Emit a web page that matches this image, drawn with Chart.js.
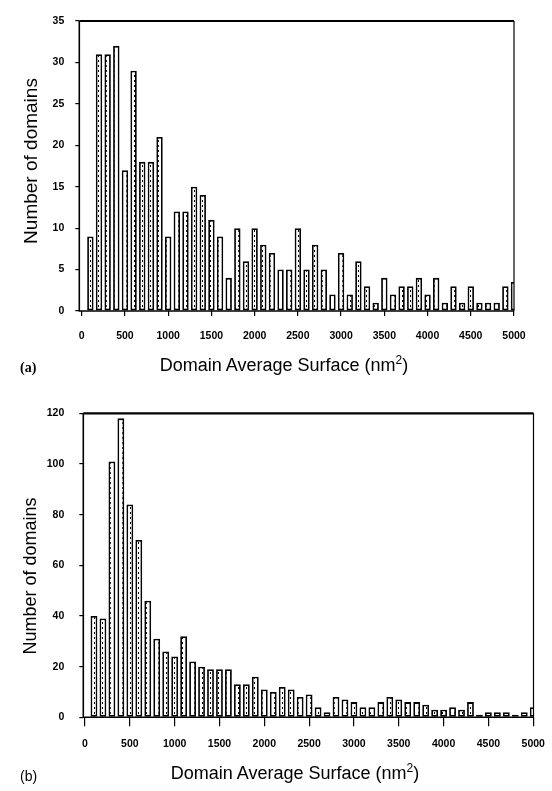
<!DOCTYPE html>
<html>
<head>
<meta charset="utf-8">
<script src="https://cdn.jsdelivr.net/npm/chart.js@4.4.0/dist/chart.umd.min.js"></script>
<style>
  body { margin: 0; background: #fff; width: 552px; height: 791px; position: relative; overflow: hidden;
         font-family: "Liberation Sans", Arial, sans-serif; color: #000; }
  .box { position: absolute; left: 0; width: 552px; }
  #boxA { top: 0; height: 390px; }
  #boxB { top: 392px; height: 399px; }
  .xtitle { position: absolute; font-size: 18px; white-space: nowrap; transform: translate(-50%, -50%); }
  .xtitle sup { font-size: 12px; line-height: 0; }
  .ytitle { position: absolute; white-space: nowrap; transform: translate(-50%, -50%) rotate(-90deg); }
  .panel { position: absolute; font-size: 14px; transform: translateY(-50%); }
  #labA { font-family: "Liberation Serif", serif; font-weight: bold; }
</style>
</head>
<body>
<div class="box" id="boxA"><canvas id="chartA"></canvas></div>
<div class="box" id="boxB"><canvas id="chartB"></canvas></div>
<div class="ytitle" style="left:31px; top:161px; font-size:19px;">Number of domains</div>
<div class="panel" id="labA" style="left:20px; top:368px;">(a)</div>
<div class="xtitle" style="left:284px; top:365px;">Domain Average Surface (nm<sup>2</sup>)</div>
<div class="ytitle" style="left:30px; top:576px; font-size:18px;">Number of domains</div>
<div class="panel" id="labB" style="left:20px; top:776px;">(b)</div>
<div class="xtitle" style="left:295px; top:773px;">Domain Average Surface (nm<sup>2</sup>)</div>
<script>
// bin centres (nm^2), shared by both histograms
const binCenters = [100, 200, 300, 400, 500, 600, 700, 800, 900, 1000,
                    1100, 1200, 1300, 1400, 1500, 1600, 1700, 1800, 1900, 2000,
                    2100, 2200, 2300, 2400, 2500, 2600, 2700, 2800, 2900, 3000,
                    3100, 3200, 3300, 3400, 3500, 3600, 3700, 3800, 3900, 4000,
                    4100, 4200, 4300, 4400, 4500, 4600, 4700, 4800, 4900, 5000];

// (a) number of domains
const countsA = [9, 31, 31, 32, 17, 29, 18, 18, 21, 9,
                 12, 12, 15, 14, 11, 9, 4, 10, 6, 10,
                 8, 7, 5, 5, 10, 5, 8, 5, 2, 7,
                 2, 6, 3, 1, 4, 2, 3, 3, 4, 2,
                 4, 1, 3, 1, 3, 1, 1, 1, 3, 3.5];

// (b) number of domains
const countsB = [40, 39, 101, 118, 84, 70, 46, 31, 26, 24,
                 32, 22, 20, 19, 19, 19, 13, 13, 16, 11,
                 10, 12, 11, 8, 9, 4, 2, 8, 7, 6,
                 4, 4, 6, 8, 7, 6, 6, 5, 3, 3,
                 4, 3, 6, 1, 2, 2, 2, 1, 2, 4];

const xTicks = [0, 500, 1000, 1500, 2000, 2500, 3000, 3500, 4000, 4500, 5000];
const yTicksA = [0, 5, 10, 15, 20, 25, 30, 35];
const yTicksB = [0, 20, 40, 60, 80, 100, 120];

const tickFont = { family: 'Liberation Sans', size: 10.5, weight: 'bold' };

// box round the plot area
const framePlugin = {
  id: 'frame',
  afterDatasetsDraw(chart) {
    const { ctx, chartArea: a } = chart;
    ctx.save();
    ctx.strokeStyle = '#000';
    ctx.lineWidth = 1.6;
    ctx.beginPath();
    ctx.moveTo(a.left, a.top);
    ctx.lineTo(a.left, a.bottom);
    ctx.lineTo(a.right, a.bottom);
    ctx.stroke();
    ctx.lineWidth = 1.2;
    ctx.beginPath();
    ctx.moveTo(a.right, a.bottom);
    ctx.lineTo(a.right, a.top);
    ctx.stroke();
    ctx.lineWidth = 2.2;
    ctx.beginPath();
    ctx.moveTo(a.left, a.top);
    ctx.lineTo(a.right, a.top);
    ctx.stroke();
    ctx.restore();
  }
};

// speckled fill like the scanned bars
function barFill(ctx) {
  const c = document.createElement('canvas');
  c.width = 4; c.height = 5;
  const g = c.getContext('2d');
  g.fillStyle = '#fff';
  g.fillRect(0, 0, 4, 5);
  g.fillStyle = '#000';
  g.fillRect(2, 0, 1, 2);
  return ctx.createPattern(c, 'repeat');
}

function makeChart(id, counts, opt) {
  const ctx = document.getElementById(id).getContext('2d');
  return new Chart(ctx, {
    type: 'bar',
    data: {
      datasets: [{
        data: binCenters.map((x, i) => ({ x: x, y: counts[i] })),
        backgroundColor: barFill(ctx),
        borderColor: '#000000',
        borderWidth: opt.barBorder,
        borderSkipped: false,
        barPercentage: opt.barPct,
        categoryPercentage: 1
      }]
    },
    options: {
      responsive: true,
      maintainAspectRatio: false,
      animation: false,
      layout: { padding: { top: opt.padTop, right: opt.padRight, left: 0, bottom: 0 } },
      plugins: { legend: { display: false }, tooltip: { enabled: false } },
      scales: {
        x: {
          type: 'linear',
          min: opt.xMin,
          max: opt.xMax,
          offset: false,
          afterBuildTicks: s => { s.ticks = xTicks.map(v => ({ value: v })); },
          afterFit: s => { s.height = opt.xHeight; s.paddingLeft = 0; s.paddingRight = 0; },
          grid: { drawOnChartArea: false, offset: false, color: '#000', lineWidth: 1.2, tickLength: opt.xTickLen },
          border: { display: false },
          ticks: { color: '#000', font: tickFont, padding: opt.xPad, maxRotation: 0, autoSkip: false,
                   callback: v => String(v) }
        },
        y: {
          min: 0,
          max: opt.yMax,
          afterBuildTicks: s => { s.ticks = opt.yTicks.map(v => ({ value: v })); },
          afterFit: s => { s.width = opt.yWidth; },
          grid: { drawOnChartArea: false, color: '#000', lineWidth: 1.2, tickLength: 4 },
          border: { display: false },
          ticks: { color: '#000', font: tickFont, padding: opt.yPad, callback: v => String(v) }
        }
      }
    },
    plugins: [framePlugin]
  });
}

makeChart('chartA', countsA, {
  barBorder: 1.8, barPct: 0.74, padTop: 21, padRight: 38,
  xMin: -28, xMax: 5000, xHeight: 79, xTickLen: 5, xPad: 14,
  yMax: 35, yTicks: yTicksA, yWidth: 79.3, yPad: 11
});

makeChart('chartB', countsB, {
  barBorder: 1.8, barPct: 0.76, padTop: 19.7, padRight: 18.5,
  xMin: -19, xMax: 5003, xHeight: 73.7, xTickLen: 9, xPad: 12,
  yMax: 120, yTicks: yTicksB, yWidth: 83.3, yPad: 15
});
</script>
</body>
</html>
